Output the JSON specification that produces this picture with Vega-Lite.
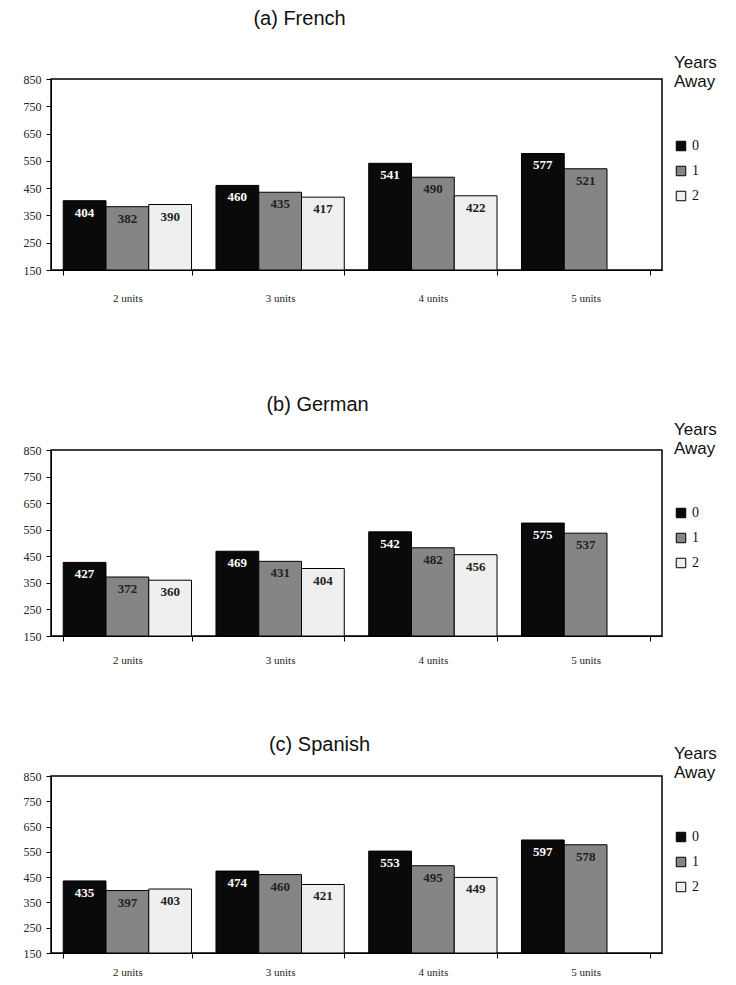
{
  "$schema": "https://vega.github.io/schema/vega-lite/v6.json",
  "padding": {"left": 22, "top": 8, "right": 0, "bottom": 0},
  "background": "white",
  "spacing": 68,
  "datasets": {
    "scores": [
      {"lang": "French", "units": "2 units", "years": "0", "value": 404},
      {"lang": "French", "units": "2 units", "years": "1", "value": 382},
      {"lang": "French", "units": "2 units", "years": "2", "value": 390},
      {"lang": "French", "units": "3 units", "years": "0", "value": 460},
      {"lang": "French", "units": "3 units", "years": "1", "value": 435},
      {"lang": "French", "units": "3 units", "years": "2", "value": 417},
      {"lang": "French", "units": "4 units", "years": "0", "value": 541},
      {"lang": "French", "units": "4 units", "years": "1", "value": 490},
      {"lang": "French", "units": "4 units", "years": "2", "value": 422},
      {"lang": "French", "units": "5 units", "years": "0", "value": 577},
      {"lang": "French", "units": "5 units", "years": "1", "value": 521},
      {"lang": "German", "units": "2 units", "years": "0", "value": 427},
      {"lang": "German", "units": "2 units", "years": "1", "value": 372},
      {"lang": "German", "units": "2 units", "years": "2", "value": 360},
      {"lang": "German", "units": "3 units", "years": "0", "value": 469},
      {"lang": "German", "units": "3 units", "years": "1", "value": 431},
      {"lang": "German", "units": "3 units", "years": "2", "value": 404},
      {"lang": "German", "units": "4 units", "years": "0", "value": 542},
      {"lang": "German", "units": "4 units", "years": "1", "value": 482},
      {"lang": "German", "units": "4 units", "years": "2", "value": 456},
      {"lang": "German", "units": "5 units", "years": "0", "value": 575},
      {"lang": "German", "units": "5 units", "years": "1", "value": 537},
      {"lang": "Spanish", "units": "2 units", "years": "0", "value": 435},
      {"lang": "Spanish", "units": "2 units", "years": "1", "value": 397},
      {"lang": "Spanish", "units": "2 units", "years": "2", "value": 403},
      {"lang": "Spanish", "units": "3 units", "years": "0", "value": 474},
      {"lang": "Spanish", "units": "3 units", "years": "1", "value": 460},
      {"lang": "Spanish", "units": "3 units", "years": "2", "value": 421},
      {"lang": "Spanish", "units": "4 units", "years": "0", "value": 553},
      {"lang": "Spanish", "units": "4 units", "years": "1", "value": 495},
      {"lang": "Spanish", "units": "4 units", "years": "2", "value": 449},
      {"lang": "Spanish", "units": "5 units", "years": "0", "value": 597},
      {"lang": "Spanish", "units": "5 units", "years": "1", "value": 578}
    ]
  },
  "data": {"name": "scores"},
  "resolve": {"legend": {"color": "independent"}},
  "vconcat": [
    {
      "title": {"text": "(a) French", "offset": 26, "dx": -57},
      "width": 611, "height": 191,
      "transform": [{"filter": "datum.lang == 'French'"}],
      "encoding": {
        "x": {"field": "units", "type": "nominal", "title": " ", "axis": {"labelPadding": 17, "titlePadding": 8, "titleFontSize": 14}, "scale": {"paddingInner": 0.16, "paddingOuter": 0.08}},
        "xOffset": {"field": "years", "type": "nominal", "scale": {"domain": ["0", "1", "2"], "paddingInner": 0}},
        "y": {"field": "value", "type": "quantitative", "title": null, "scale": {"domain": [150, 850], "nice": false, "zero": false}, "axis": {"values": [150, 250, 350, 450, 550, 650, 750, 850]}}
      },
      "layer": [
        {"mark": {"type": "bar", "stroke": "black", "strokeWidth": 1},
         "encoding": {"y2": {"datum": 150},
           "color": {"field": "years", "type": "nominal", "title": ["Years", "Away"],
           "scale": {"domain": ["0", "1", "2"], "range": ["#0a0a0a", "#858585", "#efefef"]},
           "legend": {"orient": "none", "legendX": 623, "legendY": -24}}}},
        {"mark": {"type": "text", "baseline": "top", "dy": 6, "font": "Liberation Serif", "fontSize": 13, "fontWeight": "bold"},
         "encoding": {"text": {"field": "value", "type": "quantitative"},
           "color": {"condition": {"test": "datum.years == '0'", "value": "white"}, "value": "#222"}}}
      ]
    },
    {
      "title": {"text": "(b) German", "offset": 7, "dx": -39},
      "width": 611, "height": 186,
      "transform": [{"filter": "datum.lang == 'German'"}],
      "encoding": {
        "x": {"field": "units", "type": "nominal", "title": null, "axis": {"labelPadding": 13}, "scale": {"paddingInner": 0.16, "paddingOuter": 0.08}},
        "xOffset": {"field": "years", "type": "nominal", "scale": {"domain": ["0", "1", "2"], "paddingInner": 0}},
        "y": {"field": "value", "type": "quantitative", "title": null, "scale": {"domain": [150, 850], "nice": false, "zero": false}, "axis": {"values": [150, 250, 350, 450, 550, 650, 750, 850]}}
      },
      "layer": [
        {"mark": {"type": "bar", "stroke": "black", "strokeWidth": 1},
         "encoding": {"y2": {"datum": 150},
           "color": {"field": "years", "type": "nominal", "title": ["Years", "Away"],
           "scale": {"domain": ["0", "1", "2"], "range": ["#0a0a0a", "#858585", "#efefef"]},
           "legend": {"orient": "none", "legendX": 623, "legendY": -28}}}},
        {"mark": {"type": "text", "baseline": "top", "dy": 6, "font": "Liberation Serif", "fontSize": 13, "fontWeight": "bold"},
         "encoding": {"text": {"field": "value", "type": "quantitative"},
           "color": {"condition": {"test": "datum.years == '0'", "value": "white"}, "value": "#222"}}}
      ]
    },
    {
      "title": {"text": "(c) Spanish", "offset": -9, "dx": -37},
      "width": 611, "height": 177,
      "transform": [{"filter": "datum.lang == 'Spanish'"}],
      "encoding": {
        "x": {"field": "units", "type": "nominal", "title": null, "axis": {"labelPadding": 8}, "scale": {"paddingInner": 0.16, "paddingOuter": 0.08}},
        "xOffset": {"field": "years", "type": "nominal", "scale": {"domain": ["0", "1", "2"], "paddingInner": 0}},
        "y": {"field": "value", "type": "quantitative", "title": null, "scale": {"domain": [150, 850], "nice": false, "zero": false}, "axis": {"values": [150, 250, 350, 450, 550, 650, 750, 850]}}
      },
      "layer": [
        {"mark": {"type": "bar", "stroke": "black", "strokeWidth": 1},
         "encoding": {"y2": {"datum": 150},
           "color": {"field": "years", "type": "nominal", "title": ["Years", "Away"],
           "scale": {"domain": ["0", "1", "2"], "range": ["#0a0a0a", "#858585", "#efefef"]},
           "legend": {"orient": "none", "legendX": 623, "legendY": -30}}}},
        {"mark": {"type": "text", "baseline": "top", "dy": 6, "font": "Liberation Serif", "fontSize": 13, "fontWeight": "bold"},
         "encoding": {"text": {"field": "value", "type": "quantitative"},
           "color": {"condition": {"test": "datum.years == '0'", "value": "white"}, "value": "#222"}}}
      ]
    }
  ],
  "config": {
    "view": {"stroke": "black", "strokeWidth": 1.5},
    "title": {"font": "Liberation Sans Narrow, Liberation Sans", "fontSize": 20, "fontWeight": "normal", "color": "#111", "anchor": "middle"},
    "axis": {"grid": false, "domainColor": "black", "tickColor": "black", "labelFont": "Liberation Serif", "labelFontSize": 11, "labelColor": "#222"},
    "axisX": {"labelAngle": 0, "tickBand": "extent", "tickSize": 5},
    "axisY": {"tickSize": 5, "labelPadding": 5, "labelFontSize": 12},
    "legend": {"titleFont": "Liberation Sans Narrow, Liberation Sans", "titleFontSize": 17, "titleFontWeight": "normal", "titleColor": "#111", "titlePadding": 48,
      "labelFont": "Liberation Serif", "labelFontSize": 14, "labelColor": "#111", "symbolType": "square", "symbolSize": 90, "symbolStrokeColor": "black", "symbolStrokeWidth": 1, "rowPadding": 11}
  }
}
